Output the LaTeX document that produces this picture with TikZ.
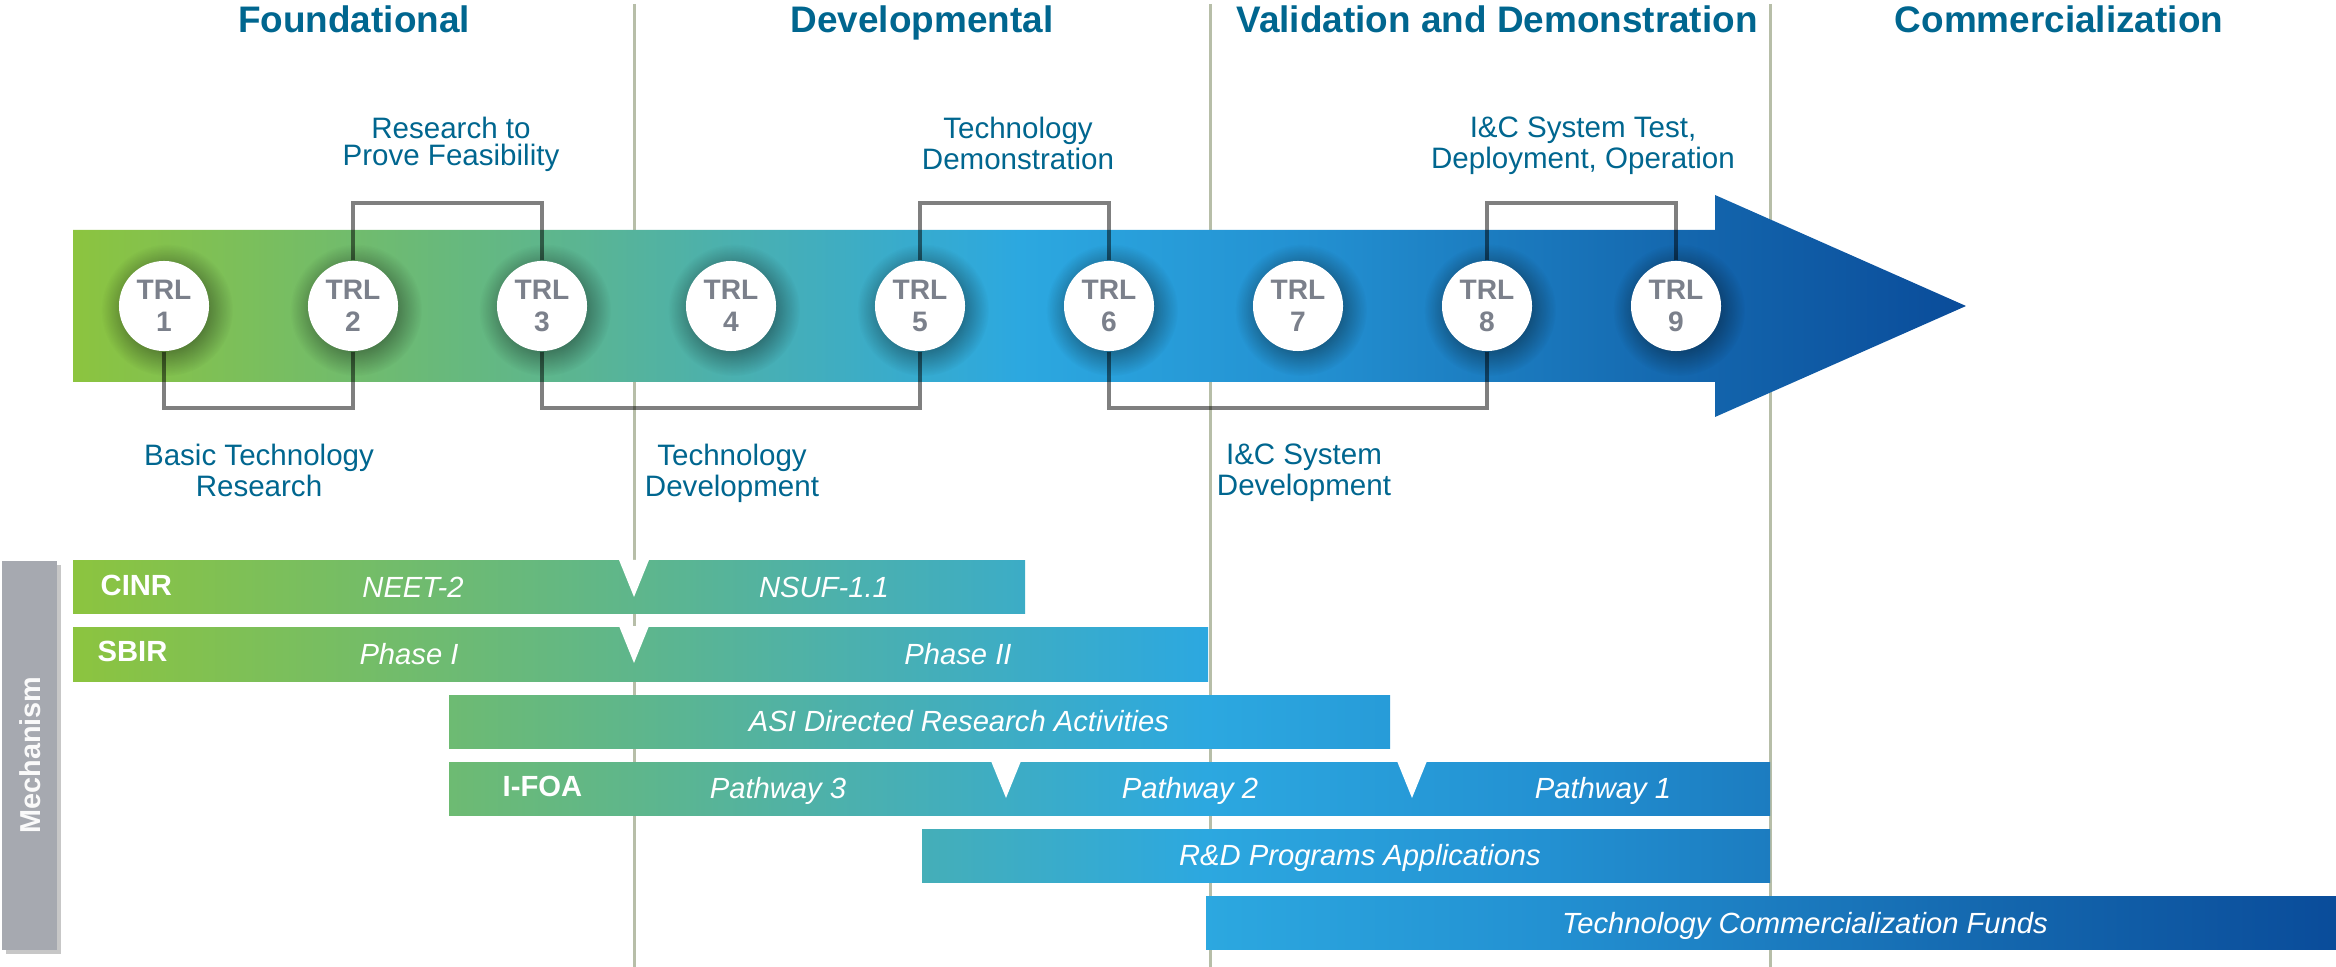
\documentclass[tikz,border=0pt]{standalone}
\usepackage{fontspec}
\setmainfont{Liberation Sans}
\usetikzlibrary{shapes,arrows,positioning,fadings}

\definecolor{gA}{HTML}{8CC43F}
\definecolor{gB}{HTML}{5EB68C}
\definecolor{gC}{HTML}{4AB0B0}
\definecolor{gD}{HTML}{2CA8E0}
\definecolor{gE}{HTML}{2391D2}
\definecolor{gF}{HTML}{1467AE}
\definecolor{gG}{HTML}{0A4C9A}
\definecolor{blutesto}{HTML}{00668F}
\definecolor{lineafase}{HTML}{B7BEA8}
\definecolor{grigiotrl}{HTML}{7B808B}
\definecolor{grigiomecc}{HTML}{A6A9B0}

\pgfdeclarehorizontalshading{trlgrad}{100bp}{color(0bp)=(gA); color(25bp)=(gA);
  color(37.5bp)=(gB); color(42.5bp)=(gC); color(50bp)=(gD); color(57.5bp)=(gE);
  color(67.5bp)=(gF); color(75bp)=(gG); color(100bp)=(gG)}
\tikzfading[name=alone, inner color=transparent!0, outer color=transparent!100]

% barra con sfumatura comune a tutta la larghezza
\newcommand{\barra}[4]{%
  \begin{scope}
    \clip (#1,#3) rectangle (#2,#4);
    \shade[shading=trlgrad] (73,#3) rectangle (2336,#4);
  \end{scope}}
\newcommand{\tacca}[2]{\fill[white] (#1-15,#2-1) -- (#1+15,#2-1) -- (#1,#2+36) -- cycle;}

\tikzset{
  trl/.style={circle, fill=white, minimum size=0.9cm, inner sep=0pt, align=center,
    text=grigiotrl, font=\bfseries\fontsize{8}{9.1}\selectfont},
  staffa/.style={draw=black, draw opacity=.5, line width=1.4pt},
  fasetit/.style={text=blutesto, font=\bfseries\fontsize{10.5}{12}\selectfont, inner sep=0pt, anchor=base},
  etich/.style={text=blutesto, font=\fontsize{8.4}{7.8}\selectfont, align=center, inner sep=0pt, anchor=north},
  mecnome/.style={text=white, font=\bfseries\fontsize{8.3}{10}\selectfont, inner sep=0pt, anchor=base west},
  mecvoce/.style={text=white, font=\itshape\fontsize{8.3}{10}\selectfont, inner sep=0pt, anchor=base}
}

\begin{document}
\begin{tikzpicture}[x=0.01cm, y=-0.01cm]
  \useasboundingbox (0,0) rectangle (2336,967);

  \foreach \x in {634,1210,1770}
    \draw[lineafase, line width=0.85pt] (\x,4) -- (\x,967);

  % freccia TRL
  \shade[shading=trlgrad] (73,230) -- (1715,230) -- (1715,195) -- (1966,306)
        -- (1715,417) -- (1715,382) -- (73,382) -- cycle;

  \foreach \i in {1,...,9}
    \fill[black, opacity=.85, path fading=alone]
      ({167+(\i-1)*189},310) circle (66);
  \foreach \i in {1,...,9}
    \node[trl] (t\i) at ({164+(\i-1)*189},306) {TRL\\\i};

  \coordinate (alto) at (0,203);
  \coordinate (basso) at (0,408);
  \draw[staffa] (t2.north) -- (t2.north |- alto) -- (t3.north |- alto) -- (t3.north);
  \draw[staffa] (t5.north) -- (t5.north |- alto) -- (t6.north |- alto) -- (t6.north);
  \draw[staffa] (t8.north) -- (t8.north |- alto) -- (t9.north |- alto) -- (t9.north);
  \draw[staffa] (t1.south) -- (t1.south |- basso) -- (t2.south |- basso) -- (t2.south);
  \draw[staffa] (t3.south) -- (t3.south |- basso) -- (t5.south |- basso) -- (t5.south);
  \draw[staffa] (t6.south) -- (t6.south |- basso) -- (t8.south |- basso) -- (t8.south);

  \node[fasetit] (fond) at (354,33) {Foundational};
  \node[fasetit] (svil) at (922,33) {Developmental};
  \node[fasetit] (valid) at (1497,33) {Validation and Demonstration};
  \node[fasetit] (comm) at (2059,33) {Commercialization};

  \node[etich] (prova) at (451,116) {Research to\\Prove Feasibility};
  \node[etich] (dimo) at (1018,116) {Technology\\Demonstration};
  \node[etich] (test) at (1583,116) {I\&C System Test,\\Deployment, Operation};
  \node[etich] (base) at (259,443) {Basic Technology\\Research};
  \node[etich] (tsvil) at (732,443) {Technology\\Development};
  \node[etich] (icsvil) at (1304,443) {I\&C System\\Development};

  % meccanismi
  \fill[black!22] (6,565) rectangle (61,954);
  \fill[grigiomecc] (2,561) rectangle (57,950);
  \node[rotate=90, text=white!94!grigiomecc, font=\bfseries\fontsize{8.2}{10}\selectfont]
    (mech) at (30,755) {Mechanism};

  \barra{73}{1025}{561}{613}
  \barra{73}{1208}{627}{681}
  \barra{449}{1390}{695}{748}
  \barra{449}{1770}{762}{815}
  \barra{922}{1770}{829}{882}
  \barra{1206}{2336}{896}{949}
  \tacca{634}{561}
  \tacca{634}{627}
  \tacca{1006}{762}
  \tacca{1412}{762}

  \node[mecnome] (cinr) at (100,595) {CINR};
  \node[mecvoce] (neet) at (413,597) {NEET-2};
  \node[mecvoce] (nsuf) at (824,597) {NSUF-1.1};
  \node[mecnome] (sbir) at (97,661) {SBIR};
  \node[mecvoce] (fase1) at (409,664) {Phase I};
  \node[mecvoce] (fase2) at (958,664) {Phase II};
  \node[mecvoce] (asi) at (959,731) {ASI Directed Research Activities};
  \node[mecnome] (ifoa) at (502,796) {I-FOA};
  \node[mecvoce] (via3) at (778,798) {Pathway 3};
  \node[mecvoce] (via2) at (1190,798) {Pathway 2};
  \node[mecvoce] (via1) at (1603,798) {Pathway 1};
  \node[mecvoce] (rd) at (1360,865) {R\&D Programs Applications};
  \node[mecvoce] (tcf) at (1805,933) {Technology Commercialization Funds};
\end{tikzpicture}
\end{document}
